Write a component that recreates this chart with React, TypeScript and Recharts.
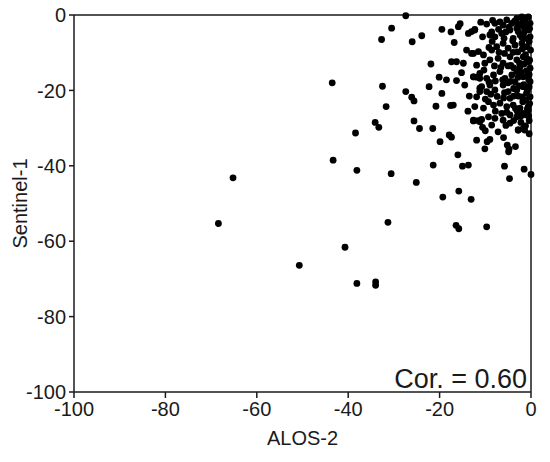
import { ScatterChart, Scatter, XAxis, YAxis, ReferenceLine, Label } from 'recharts'

// far-out points, lower left
const outlierPoints = [
  { x: -65.2, y: -43.2 }, { x: -68.4, y: -55.3 }, { x: -43.5, y: -18.0 }, { x: -32.5, y: -18.9 },
  { x: -31.7, y: -24.3 }, { x: -34.1, y: -28.5 }, { x: -33.3, y: -29.8 }, { x: -38.4, y: -31.3 },
  { x: -43.3, y: -38.5 }, { x: -38.1, y: -41.2 }, { x: -30.6, y: -42.1 }, { x: -31.3, y: -55.0 },
  { x: -40.7, y: -61.6 }, { x: -50.7, y: -66.4 }, { x: -38.1, y: -71.2 }, { x: -34.0, y: -70.8 },
  { x: -34.0, y: -71.7 },
]

// spread between -35 and -9
const midPoints = [
  { x: -16.0, y: -37.1 }, { x: -4.9, y: -36.3 }, { x: -21.4, y: -39.8 }, { x: -15.0, y: -40.1 },
  { x: -13.7, y: -39.8 }, { x: -5.8, y: -40.1 }, { x: -1.5, y: -40.9 }, { x: 0, y: -42.3 },
  { x: -25.1, y: -44.4 }, { x: -4.7, y: -43.4 }, { x: -15.8, y: -46.7 }, { x: -19.3, y: -48.3 },
  { x: -13.1, y: -48.9 }, { x: -16.4, y: -55.8 }, { x: -15.8, y: -56.7 }, { x: -9.7, y: -56.2 },
  { x: -27.4, y: -20.3 }, { x: -26.1, y: -21.8 }, { x: -25.6, y: -22.8 }, { x: -19.5, y: -20.8 },
  { x: -20.8, y: -24.2 }, { x: -17.6, y: -24.0 }, { x: -17.0, y: -23.9 }, { x: -25.6, y: -28.1 },
  { x: -24.4, y: -30.1 }, { x: -21.5, y: -30.1 }, { x: -17.9, y: -31.8 }, { x: -17.4, y: -32.4 },
  { x: -19.9, y: -33.6 }, { x: -11.9, y: -33.2 }, { x: -12.6, y: -28.1 }, { x: -11.6, y: -28.0 },
  { x: -10.8, y: -27.7 }, { x: -10.6, y: -29.8 }, { x: -10.0, y: -30.7 }, { x: -9.0, y: -33.0 },
  { x: -9.6, y: -33.6 }, { x: -10.1, y: -35.5 }, { x: -5.2, y: -34.5 }, { x: -4.8, y: -35.6 },
  { x: -3.4, y: -34.9 }, { x: -2.8, y: -30.5 }, { x: -1.4, y: -30.5 },
  { x: -27.4, y: -0.2 }, { x: -30.5, y: -3.5 }, { x: -32.7, y: -6.5 }, { x: -26.0, y: -7.1 },
  { x: -23.9, y: -5.5 }, { x: -19.5, y: -3.8 }, { x: -17.5, y: -4.5 }, { x: -15.5, y: -2.3 },
  { x: -15.9, y: -3.1 }, { x: -16.8, y: -7.3 }, { x: -14.1, y: -9.3 }, { x: -12.6, y: -10.2 },
  { x: -13.7, y: -4.9 }, { x: -13.0, y: -4.4 }, { x: -12.3, y: -3.8 }, { x: -21.9, y: -13.0 },
  { x: -17.4, y: -12.4 }, { x: -16.3, y: -12.4 }, { x: -14.8, y: -12.8 }, { x: -20.1, y: -16.5 },
  { x: -16.3, y: -17.4 }, { x: -15.2, y: -15.3 }, { x: -18.5, y: -17.2 }, { x: -22.3, y: -19.0 },
  { x: -12.6, y: -16.4 }, { x: -11.9, y: -16.5 }, { x: -11.2, y: -16.8 }, { x: -10.8, y: -19.0 },
  { x: -11.2, y: -20.3 }, { x: -9.0, y: -18.6 },
]

// dense block near the top right corner
const clusterPoints = [
  { x: -9.7, y: -2.4 }, { x: -12.3, y: -4.0 },
  { x: -7.9, y: -2.2 }, { x: -6.8, y: -1.8 }, { x: -6.1, y: -2.7 }, { x: -5.3, y: -1.3 }, { x: -4.2, y: -2.2 },
  { x: -3.1, y: -0.9 }, { x: -2.0, y: -0.5 }, { x: -1.3, y: -1.3 }, { x: -0.6, y: -0.5 }, { x: -0.2, y: -2.2 },
  { x: -9.0, y: -5.3 }, { x: -7.9, y: -5.8 }, { x: -6.4, y: -4.9 }, { x: -4.6, y: -4.0 }, { x: -3.1, y: -3.5 },
  { x: -1.7, y: -3.1 }, { x: -0.6, y: -4.0 }, { x: -2.4, y: -5.3 }, { x: -3.9, y: -6.2 }, { x: -1.3, y: -6.2 },
  { x: -0.2, y: -5.8 },
  { x: -13.0, y: -10.2 }, { x: -11.5, y: -9.7 }, { x: -10.4, y: -10.6 }, { x: -8.6, y: -9.3 }, { x: -7.5, y: -8.4 },
  { x: -6.1, y: -7.5 }, { x: -5.0, y: -8.8 }, { x: -3.5, y: -8.0 }, { x: -2.0, y: -7.5 }, { x: -0.9, y: -8.4 },
  { x: -0.1, y: -9.3 },
  { x: -11.9, y: -13.3 }, { x: -10.1, y: -12.8 }, { x: -9.0, y: -11.9 }, { x: -7.2, y: -11.5 }, { x: -6.1, y: -12.8 },
  { x: -4.6, y: -11.1 }, { x: -3.1, y: -11.9 }, { x: -1.7, y: -11.1 }, { x: -0.6, y: -12.4 }, { x: -2.4, y: -13.7 },
  { x: -0.2, y: -14.1 },
  { x: -12.6, y: -16.4 }, { x: -11.2, y: -15.5 }, { x: -9.7, y: -16.8 }, { x: -8.2, y: -15.9 }, { x: -6.8, y: -15.0 },
  { x: -5.7, y: -16.8 }, { x: -4.2, y: -15.9 }, { x: -3.1, y: -15.0 }, { x: -1.7, y: -16.4 }, { x: -0.6, y: -15.9 },
  { x: -3.5, y: -17.7 }, { x: -0.2, y: -17.7 },
  { x: -11.2, y: -19.4 }, { x: -11.9, y: -21.7 }, { x: -9.7, y: -20.3 }, { x: -7.9, y: -19.9 }, { x: -6.1, y: -18.6 },
  { x: -5.0, y: -20.3 }, { x: -3.1, y: -19.9 }, { x: -1.7, y: -19.0 }, { x: -1.0, y: -20.8 }, { x: -2.0, y: -21.7 },
  { x: -0.2, y: -21.7 }, { x: -4.6, y: -22.1 },
  { x: -12.3, y: -24.3 }, { x: -10.4, y: -24.7 }, { x: -9.3, y: -23.0 }, { x: -8.2, y: -23.9 }, { x: -6.8, y: -23.4 },
  { x: -5.3, y: -24.3 }, { x: -3.9, y: -23.9 }, { x: -2.4, y: -24.7 }, { x: -0.6, y: -24.3 }, { x: -1.7, y: -26.1 },
  { x: -4.6, y: -26.5 }, { x: -3.1, y: -27.0 }, { x: -6.4, y: -26.1 },
  { x: -12.6, y: -27.9 }, { x: -11.2, y: -28.3 }, { x: -9.3, y: -27.0 }, { x: -7.9, y: -27.4 }, { x: -6.1, y: -27.9 },
  { x: -4.6, y: -28.7 }, { x: -2.8, y: -30.5 }, { x: -1.7, y: -30.1 }, { x: -0.6, y: -25.2 },
  { x: -2.8, y: -2.5 }, { x: -0.9, y: -3.0 }, { x: -2.0, y: -6.0 }, { x: -0.4, y: -7.0 }, { x: -2.9, y: -9.8 },
  { x: -1.2, y: -10.5 }, { x: -0.3, y: -12.0 }, { x: -2.5, y: -12.8 }, { x: -1.0, y: -14.8 }, { x: -2.8, y: -16.5 },
  { x: -0.5, y: -17.2 }, { x: -1.6, y: -18.5 }, { x: -3.8, y: -19.5 }, { x: -0.8, y: -20.0 }, { x: -2.8, y: -21.5 },
  { x: -1.2, y: -22.6 }, { x: -0.3, y: -23.5 }, { x: -3.0, y: -25.5 }, { x: -1.0, y: -26.5 }, { x: -0.4, y: -28.0 },
  { x: -2.2, y: -28.5 }, { x: -5.5, y: -29.3 }, { x: -4.0, y: -6.8 }, { x: -5.5, y: -4.5 }, { x: -8.5, y: -7.0 },
  { x: -5.0, y: -13.5 }, { x: -7.8, y: -17.5 }, { x: -3.8, y: -14.0 }, { x: -8.8, y: -21.0 }, { x: -6.0, y: -22.0 },
  { x: -5.0, y: -18.0 },
]

// the darkest part, hugging the right axis
const coreFillPoints = [
  { x: -1.8, y: -1.8 }, { x: -0.3, y: -3.6 }, { x: -3.6, y: -1.6 }, { x: -4.8, y: -3.2 }, { x: -7.1, y: -3.8 },
  { x: -8.4, y: -1.4 }, { x: -10.6, y: -5.8 }, { x: -11.0, y: -1.9 }, { x: -9.2, y: -8.6 }, { x: -7.0, y: -9.9 },
  { x: -5.8, y: -10.2 }, { x: -3.9, y: -9.9 }, { x: -1.9, y: -9.0 }, { x: -0.9, y: -11.6 }, { x: -8.0, y: -13.5 },
  { x: -10.3, y: -14.6 }, { x: -6.6, y: -13.9 }, { x: -4.4, y: -13.4 }, { x: -1.5, y: -13.0 }, { x: -0.4, y: -15.8 },
  { x: -2.1, y: -15.2 }, { x: -4.4, y: -17.6 }, { x: -6.2, y: -17.2 }, { x: -9.2, y: -17.8 }, { x: -2.6, y: -18.8 },
  { x: -0.4, y: -19.1 }, { x: -3.8, y: -21.5 }, { x: -5.8, y: -20.6 }, { x: -7.4, y: -21.6 }, { x: -10.0, y: -22.3 },
  { x: -1.8, y: -23.0 }, { x: -0.8, y: -24.9 }, { x: -3.4, y: -24.8 }, { x: -5.3, y: -25.8 }, { x: -7.8, y: -25.5 },
  { x: -2.2, y: -26.8 }, { x: -0.5, y: -26.8 }, { x: -3.8, y: -28.0 }, { x: -8.6, y: -29.2 }, { x: -1.2, y: -29.4 },
  { x: -7.2, y: -31.0 }, { x: -0.4, y: -31.5 }, { x: -6.0, y: -32.5 }, { x: -13.5, y: -21.5 }, { x: -13.8, y: -25.5 },
  { x: -14.5, y: -18.6 }, { x: -8.6, y: -4.5 }, { x: -5.9, y: -6.2 }, { x: -2.8, y: -4.4 }, { x: -1.6, y: -4.8 },
]

const axisTicks = [-100, -80, -60, -40, -20, 0]
const corrText = 'Cor. = 0.60'

const allPoints = [...outlierPoints, ...midPoints, ...clusterPoints, ...coreFillPoints]

const font = 'Arial, "Liberation Sans", sans-serif'
const ink = '#1a1a1a'

const Dot = (props: any) => <circle cx={props.cx} cy={props.cy} r={3.4} fill="#000" />

export default function App() {
  return (
    <div style={{ position: 'absolute', left: 0, top: 0, width: 550, height: 462, background: '#fff', fontFamily: font }}>
      <ScatterChart width={550} height={462} margin={{ top: 15, right: 19, bottom: 10, left: 0 }}>
        <XAxis
          type="number"
          dataKey="x"
          domain={[-100, 0]}
          ticks={axisTicks}
          stroke={ink}
          strokeWidth={1.5}
          tickSize={6}
          tickMargin={4}
          height={60}
          tick={{ fill: ink, fontSize: 20, fontFamily: font }}
        >
          <Label value="ALOS-2" position="center" dy={16} style={{ fill: ink, fontSize: 20, fontFamily: font }} />
        </XAxis>
        <YAxis
          type="number"
          dataKey="y"
          domain={[-100, 0]}
          ticks={axisTicks}
          stroke={ink}
          strokeWidth={1.5}
          tickSize={5}
          tickMargin={3}
          width={74}
          tick={{ fill: ink, fontSize: 20, fontFamily: font }}
        >
          <Label value="Sentinel-1" position="center" angle={-90} dx={-17} style={{ fill: ink, fontSize: 20, fontFamily: font }} />
        </YAxis>
        <ReferenceLine y={0} stroke={ink} strokeWidth={1.5} />
        <ReferenceLine x={0} stroke={ink} strokeWidth={1.5} />
        <Scatter data={allPoints} fill="#000" shape={Dot} isAnimationActive={false} />
      </ScatterChart>
      <svg width={550} height={462} style={{ position: 'absolute', left: 0, top: 0, pointerEvents: 'none' }}>
        <text x={527} y={388} textAnchor="end" fontSize={27} fontFamily={font} fill={ink}>
          {corrText}
        </text>
      </svg>
    </div>
  )
}
